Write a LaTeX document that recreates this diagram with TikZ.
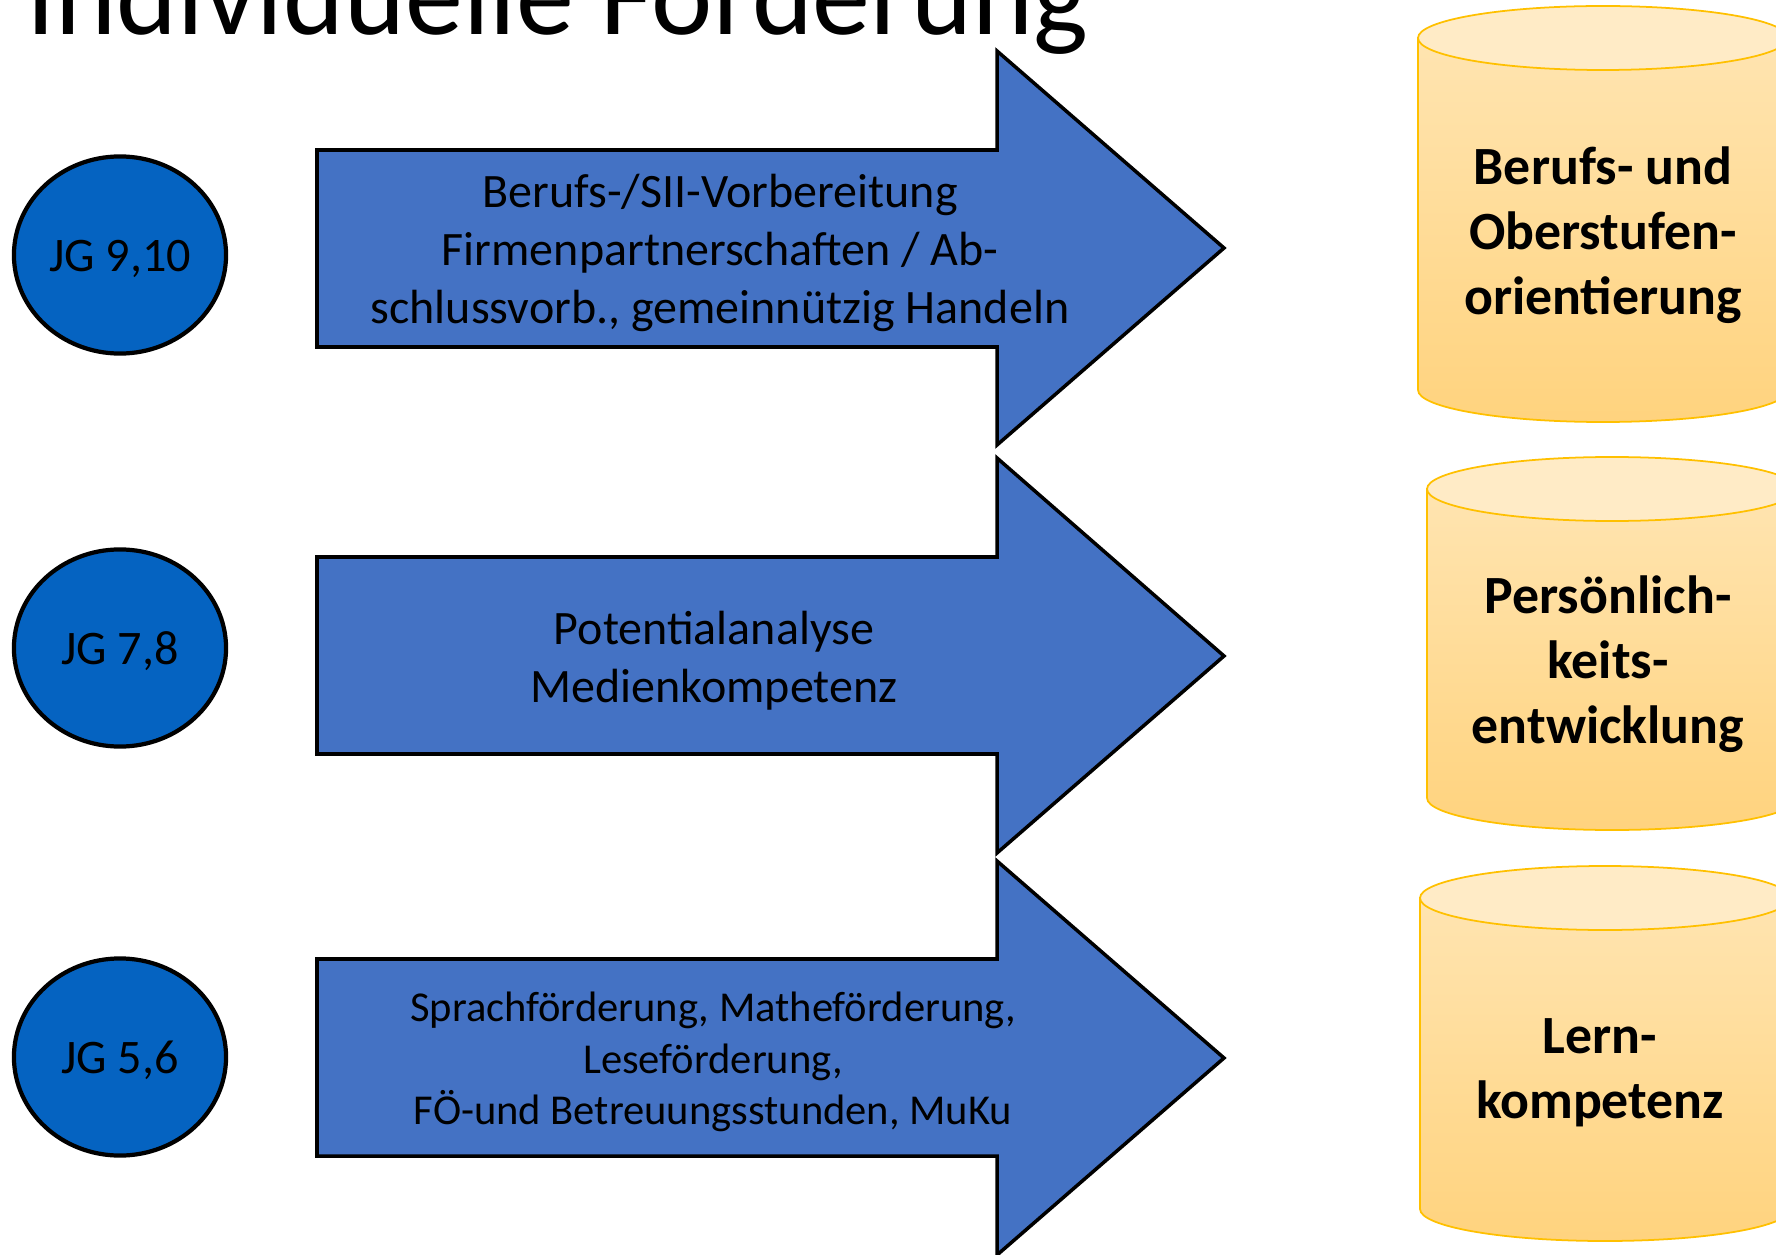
\documentclass[tikz,border=0pt]{standalone}
\usepackage{fontspec}
\setmainfont{Carlito}
\usetikzlibrary{shapes.geometric}
\definecolor{jgblue}{HTML}{0563C1}
\definecolor{arrowblue}{HTML}{4472C4}
\definecolor{cylline}{HTML}{FFC000}
\definecolor{cyltop}{HTML}{FFEBC6}
\definecolor{cylbody}{HTML}{FFD98F}
\definecolor{cylbodyb}{HTML}{FFD37E}
\newcommand{\jglabel}[1]{\raisebox{-1pt}[\height][\depth]{#1}}
\tikzset{
  jg/.style={ellipse, draw=black, line width=1.2pt, fill=jgblue,
    minimum width=2.12cm, minimum height=1.97cm, inner sep=0pt,
    font=\fontsize{13.7}{16}\selectfont},
  arrowshape/.style={draw=black, line width=1pt, fill=arrowblue},
  arrowtext/.style={align=center, font=\fontsize{13.65}{16.5}\selectfont},
  arrowtextsmall/.style={align=center, font=\fontsize{12.1}{14.6}\selectfont},
  cylshape/.style={draw=cylline, line width=0.5pt, top color=cylbody!70!white, bottom color=cylbodyb},
  cyltopshape/.style={draw=cylline, line width=0.5pt, fill=cyltop},
  cyltext/.style={align=center, font=\bfseries\fontsize{15.3}{18.5}\selectfont},
}
\begin{document}
\begin{tikzpicture}[x=0.01cm,y=-0.01cm]
\useasboundingbox (0,0) rectangle (1776,1255);
\clip (0,0) rectangle (1776,1255);

% title
\node[anchor=base west, inner sep=0pt, font=\fontsize{33}{38}\selectfont] (title) at (26,35) {Individuelle Förderung};

% year-group circles
\node[jg] (jg910) at (120,255) {\jglabel{JG 9,10}};
\node[jg] (jg78) at (120,648) {\jglabel{JG 7,8}};
\node[jg] (jg56) at (120,1057) {\jglabel{JG 5,6}};

% arrows
\draw[arrowshape] (317,150) -- (997,150) -- (997,51) -- (1224,248) -- (997,445) -- (997,347) -- (317,347) -- cycle;
\draw[arrowshape] (317,557) -- (997,557) -- (997,458) -- (1224,656) -- (997,853) -- (997,754) -- (317,754) -- cycle;
\draw[arrowshape] (317,959) -- (997,959) -- (997,861) -- (1224,1058) -- (997,1255) -- (997,1156) -- (317,1156) -- cycle;

\node[arrowtext] (a1) at (720,253) {Berufs-/SII-Vorbereitung\\Firmenpartnerschaften / Ab-\\schlussvorb., gemeinnützig Handeln};
\node[arrowtext] (a2) at (714,661) {Potentialanalyse\\Medienkompetenz};
\node[arrowtextsmall] (a3) at (713,1062) {Sprachförderung, Matheförderung,\\Leseförderung,\\FÖ-und Betreuungsstunden, MuKu};

% cylinders
\path[cylshape] (1418,38) -- (1418,390) arc[start angle=180, end angle=0, x radius=185, y radius=32] -- (1788,38) -- cycle;
\draw[cyltopshape] (1603,38) ellipse[x radius=185, y radius=32];
\path[cylshape] (1427,489) -- (1427,798) arc[start angle=180, end angle=0, x radius=185, y radius=32] -- (1797,489) -- cycle;
\draw[cyltopshape] (1612,489) ellipse[x radius=185, y radius=32];
\path[cylshape] (1420,898) -- (1420,1209) arc[start angle=180, end angle=0, x radius=185, y radius=32] -- (1790,898) -- cycle;
\draw[cyltopshape] (1605,898) ellipse[x radius=185, y radius=32];

\node[cyltext] (c1) at (1603,235) {Berufs- und\\Oberstufen-\\orientierung};
\node[cyltext] (c2) at (1608,664) {Persönlich-\\keits-\\entwicklung};
\node[cyltext] (c3) at (1600,1073) {Lern-\\kompetenz};
\end{tikzpicture}
\end{document}
